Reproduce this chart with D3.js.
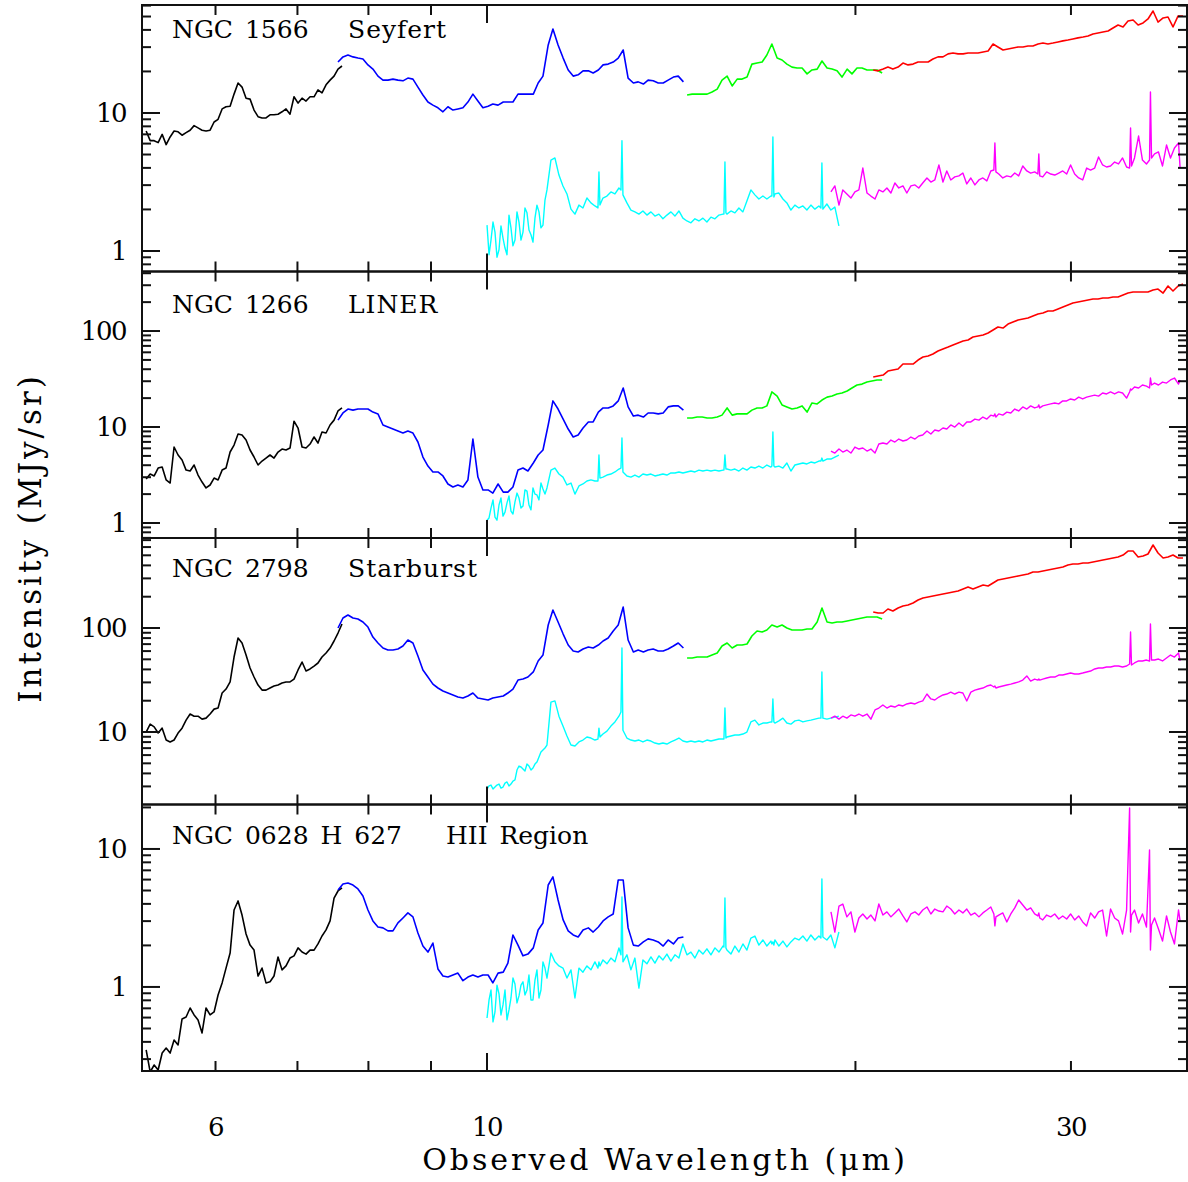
<!DOCTYPE html>
<html>
<head>
<meta charset="utf-8">
<script src="https://cdn.jsdelivr.net/npm/d3@7"></script>
<style>
  body { margin: 0; background: #fff; }
  svg { display: block; }
  text { font-family: "DejaVu Serif", serif; fill: #000; }
</style>
</head>
<body>
<svg id="chart" width="1188" height="1182"></svg>
<script>
// ---------------------------------------------------------------
// Wavelength grids (micron) of the six spectral modules
// ---------------------------------------------------------------
const sl2Wave = [5.266,5.306,5.346,5.386,5.427,5.468,5.509,5.550,5.592,5.634,
  5.677,5.720,5.763,5.806,5.850,5.894,5.939,5.984,6.029,6.075,
  6.120,6.167,6.213,6.260,6.307,6.355,6.403,6.451,6.500,6.549,
  6.598,6.648,6.698,6.749,6.800,6.851,6.903,6.955,7.008,7.061,
  7.114,7.168,7.222,7.276,7.331,7.387,7.443,7.499,7.555,7.612];

const sl1Wave = [7.555,7.626,7.698,7.771,7.844,7.918,7.993,8.068,8.145,8.222,
  8.299,8.378,8.457,8.537,8.617,8.699,8.781,8.864,8.948,9.032,
  9.118,9.204,9.291,9.379,9.467,9.557,9.647,9.738,9.830,9.923,
  10.02,10.11,10.21,10.31,10.40,10.50,10.60,10.70,10.80,10.91,
  11.01,11.11,11.22,11.32,11.43,11.54,11.65,11.76,11.87,11.98,
  12.10,12.21,12.33,12.44,12.56,12.68,12.80,12.92,13.04,13.17,
  13.29,13.42,13.54,13.67,13.80,13.93,14.06,14.20,14.33,14.47];

const ll2Wave = [14.57,14.71,14.85,14.99,15.13,15.27,15.42,15.56,15.71,15.86,
  16.01,16.16,16.31,16.46,16.62,16.78,16.93,17.09,17.26,17.42,
  17.58,17.75,17.92,18.09,18.26,18.43,18.61,18.78,18.96,19.14,
  19.32,19.50,19.69,19.87,20.06,20.25,20.44,20.63,20.83,21.03];

const ll1Wave = [20.68,20.87,21.07,21.26,21.46,21.67,21.87,22.08,22.29,22.50,
  22.71,22.93,23.14,23.36,23.58,23.81,24.03,24.26,24.49,24.72,
  24.95,25.19,25.43,25.67,25.91,26.15,26.40,26.65,26.90,27.16,
  27.41,27.67,27.93,28.20,28.46,28.73,29.00,29.28,29.55,29.83,
  30.11,30.40,30.69,30.98,31.27,31.57,31.86,32.17,32.47,32.78,
  33.09,33.40,33.72,34.04,34.36,34.68,35.01,35.34,35.68,36.01,
  36.35,36.70,37.04];

const shWave = [10.000,10.075,10.151,10.228,10.305,10.383,10.461,10.540,10.620,10.700,
  10.781,10.862,10.944,11.027,11.110,11.194,11.278,11.363,11.449,11.536,
  11.623,11.711,11.799,11.888,11.978,12.068,12.159,12.251,12.321,12.344,
  12.367,12.437,12.531,12.625,12.721,12.817,12.866,12.890,12.914,13.011,
  13.109,13.208,13.308,13.409,13.510,13.612,13.715,13.818,13.923,14.028,
  14.134,14.241,14.348,14.457,14.566,14.676,14.787,14.898,15.011,15.124,
  15.239,15.354,15.470,15.587,15.616,15.646,15.675,15.704,15.823,15.942,
  16.063,16.184,16.306,16.429,16.553,16.678,16.804,16.931,17.059,17.091,
  17.123,17.155,17.188,17.318,17.449,17.580,17.713,17.847,17.982,18.118,
  18.254,18.392,18.531,18.671,18.742,18.777,18.812,18.954,19.097,19.241,
  19.387];

// extra samples at the noisy short-wavelength edge of the SH module
const shEdgeWave = [10.038,10.113,10.189,10.266,10.344,10.422,10.500,10.580,
  10.660,10.740,10.821,10.903,10.985,11.068,11.152];

const lhWave = [19.10,19.24,19.39,19.53,19.68,19.83,19.98,20.13,20.28,20.44,
  20.59,20.75,20.90,21.06,21.22,21.38,21.54,21.70,21.87,22.03,
  22.20,22.37,22.53,22.70,22.88,23.05,23.22,23.40,23.58,23.75,
  23.93,24.11,24.30,24.48,24.66,24.85,25.04,25.23,25.42,25.61,
  25.80,25.95,26.00,26.05,26.19,26.39,26.59,26.79,26.99,27.19,
  27.40,27.61,27.81,28.02,28.19,28.24,28.29,28.45,28.66,28.88,
  29.10,29.32,29.54,29.76,29.98,30.21,30.44,30.67,30.90,31.13,
  31.37,31.60,31.84,32.08,32.32,32.57,32.81,33.06,33.31,33.50,
  33.56,33.62,33.81,34.07,34.32,34.58,34.78,34.84,34.91,35.11,
  35.37,35.64,35.91,36.18,36.45,36.73,36.84];

// ---------------------------------------------------------------
// Intensities (MJy/sr)
// ---------------------------------------------------------------
// NGC 1566 (Seyfert)
const ngc1566_sl2 = [7.4,6.3,6.3,6.1,7.0,5.9,6.7,7.4,7.3,6.9,
  7.2,7.5,8.1,7.8,7.5,7.4,7.5,8.6,9.0,10.7,
  11.1,11.2,13.7,16.5,15.4,12.8,12.6,10.5,9.4,9.2,
  9.2,9.7,9.7,9.8,10.2,10.7,9.8,13.1,11.8,12.8,
  12.2,13.1,13.1,14.7,14.0,16.0,17.3,18.5,20.8,21.9];
const ngc1566_sl1 = [23.4,25.5,26.3,25.5,25.0,24.6,22.3,20.8,18.5,17.3,
  17.3,17.6,17.3,17.1,17.9,17.6,15.4,13.5,12.0,11.4,
  10.9,10.2,11.1,10.5,10.7,10.9,12.0,13.7,12.2,10.9,
  11.2,11.6,11.4,12.0,12.0,12.0,13.7,13.7,13.7,13.7,
  16.5,18.5,31.1,40.6,31.1,25.0,20.5,18.5,18.9,20.2,
  20.2,19.5,20.5,22.3,22.6,23.4,25.0,28.6,17.9,16.5,
  16.8,16.2,17.3,17.1,16.5,16.5,17.3,18.2,18.5,16.8];
const ngc1566_ll2 = [13.5,13.7,13.7,13.7,13.7,14.2,14.9,17.3,18.5,15.7,
  17.6,17.6,18.2,22.6,23.0,23.4,26.3,31.6,25.0,24.2,
  22.6,21.5,21.2,21.2,19.2,20.5,20.8,23.8,21.2,20.8,
  20.2,18.2,20.8,19.2,21.2,21.2,20.5,20.5,20.5,19.5];
const ngc1566_ll1 = [20.5,20.2,20.8,21.5,20.8,21.5,23.0,22.3,22.6,23.4,
  23.4,23.4,24.6,25.5,25.5,26.8,27.2,26.8,26.8,27.2,
  27.2,27.2,27.7,28.1,31.6,30.1,28.6,29.1,29.6,30.1,
  30.1,30.6,30.6,31.6,32.1,31.6,32.1,32.7,33.3,33.8,
  34.4,35.0,35.5,36.1,37.4,38.0,38.6,39.3,41.3,43.4,
  42.0,46.4,47.2,43.4,44.9,48.0,54.8,45.6,48.8,49.6,
  42.0,50.5,50.5];
const ngc1566_sh = [1.54,1.20,1.37,1.02,1.24,0.94,1.47,1.20,1.62,1.37,
  1.89,1.31,1.73,1.92,1.54,2.77,4.56,4.72,3.55,2.96,
  2.59,2.01,1.85,2.15,2.05,2.42,2.23,2.12,2.05,3.74,
  2.15,2.42,2.50,2.68,2.59,2.86,2.77,6.3,2.55,2.23,
  1.98,1.92,1.85,1.95,1.82,1.92,1.79,1.85,1.71,1.82,
  1.92,1.79,1.95,1.73,1.65,1.60,1.71,1.65,1.73,1.62,
  1.76,1.71,1.82,1.85,1.85,4.41,1.89,1.85,1.95,1.89,
  2.05,1.92,2.30,2.77,2.55,2.38,2.50,2.38,2.50,2.50,
  6.7,2.46,2.59,2.63,2.38,2.23,1.98,2.15,2.05,2.12,
  1.98,2.15,2.01,2.12,2.05,4.34,2.01,2.19,1.98,2.08,
  1.52];
const ngc1566_shEdge = [0.94,1.62,0.90,1.52,1.05,1.82,1.09,1.92,1.20,2.05,1.42,1.16,2.15,1.47,2.34];
const ngc1566_lh = [2.68,2.96,2.15,2.77,2.59,2.42,2.68,2.77,3.99,2.63,
  2.50,2.38,2.77,2.68,2.86,2.63,3.11,2.86,2.96,2.63,
  2.96,3.01,2.86,3.11,3.38,3.16,3.27,4.20,3.16,3.80,
  3.27,3.44,3.50,3.67,3.06,3.38,3.01,3.27,3.38,3.22,
  3.80,3.86,6.06,3.74,3.61,3.38,3.50,3.44,3.67,3.50,
  4.13,3.80,3.67,3.74,3.61,5.05,3.50,3.44,3.74,3.61,
  3.55,3.67,3.80,3.61,4.20,3.61,3.38,3.27,3.99,3.86,
  3.99,4.80,4.20,4.06,4.13,4.41,4.27,4.72,4.06,3.99,
  7.78,4.13,4.72,6.81,4.56,4.27,4.56,14.2,4.72,5.05,
  5.22,4.13,5.86,4.72,5.58,6.06,3.99];

// NGC 1266 (LINER)
const ngc1266_sl2 = [2.87,3.24,3.09,3.74,3.83,2.81,2.61,6.19,5.11,4.53,
  3.56,3.48,4.02,3.16,2.67,2.32,2.49,2.94,2.81,3.56,
  3.74,5.49,6.49,8.46,8.25,7.32,5.76,4.87,4.02,4.42,
  4.75,5.11,4.75,5.49,5.90,5.76,6.04,11.5,9.76,6.19,
  6.04,6.65,7.87,6.81,8.87,8.66,10.5,11.8,14.7,15.8];
const ngc1266_sl1 = [11.8,14.0,15.4,15.0,15.4,15.4,15.4,14.3,13.7,10.5,
  10.0,9.53,9.09,8.66,9.09,8.66,6.98,4.87,3.92,3.40,
  3.40,3.09,2.55,2.37,2.49,2.37,2.81,7.50,3.01,2.21,
  2.21,2.05,2.55,2.10,2.10,2.37,3.56,3.74,3.48,4.22,
  5.11,5.76,10.5,18.7,15.4,12.1,9.53,7.87,8.25,9.76,
  11.3,11.3,14.3,15.8,15.8,16.6,18.7,25.5,16.2,13.0,
  13.3,12.7,14.0,14.0,13.7,14.0,16.2,16.6,16.6,15.0];
const ngc1266_ll2 = [12.4,12.4,12.7,12.7,12.4,12.4,12.7,13.3,15.8,13.3,
  13.7,13.7,13.7,15.0,15.8,15.8,16.6,23.2,21.0,17.0,
  16.2,15.4,15.8,16.6,14.3,17.8,17.4,19.1,20.5,21.0,
  22.1,22.6,23.7,25.5,27.4,28.0,29.4,30.1,30.9,30.9];
const ngc1266_ll1 = [33.2,34.0,34.8,38.3,39.3,40.2,45.3,45.3,45.3,49.9,
  53.6,54.9,57.6,61.9,64.9,68.1,71.5,75.0,78.7,80.6,
  86.6,88.7,90.9,95.3,102.4,110.1,107.5,118.3,124.1,130.2,
  133.4,136.6,143.3,150.4,154.0,161.6,161.6,169.5,177.8,186.6,
  195.7,200.5,205.4,210.3,215.4,215.4,220.7,220.7,226.1,226.1,
  237.1,248.8,254.8,254.8,254.8,254.8,267.3,273.8,248.8,294.3,
  261.0,294.3,308.8];
const ngc1266_sh = [1.07,1.43,1.15,1.54,1.18,1.62,1.33,1.66,1.82,1.50,
  2.15,1.37,2.00,1.74,2.26,2.32,3.56,3.74,3.24,3.01,
  2.49,2.61,2.00,2.43,2.55,2.74,2.81,2.74,2.74,5.11,
  2.94,3.01,3.16,3.24,3.40,3.65,3.74,7.68,3.40,3.09,
  3.01,3.16,3.01,3.24,3.16,3.24,3.09,3.16,3.24,3.16,
  3.32,3.32,3.40,3.32,3.40,3.48,3.40,3.56,3.48,3.56,
  3.48,3.56,3.48,3.56,3.56,5.11,3.65,3.65,3.56,3.65,
  3.48,3.74,3.56,3.83,3.74,3.92,3.74,4.02,3.83,3.92,
  8.87,3.92,3.83,3.92,3.74,4.22,3.48,4.02,4.12,4.22,
  4.12,4.32,4.22,4.42,4.42,4.75,4.42,4.64,4.64,4.87,
  5.11];
const ngc1266_shEdge = [1.13,1.74,1.07,1.82,1.30,1.91,1.24,2.05,1.43,2.21,1.54,2.32,1.96,2.61,2.00];
const ngc1266_lh = [5.62,5.36,5.90,5.49,5.76,5.36,6.19,5.90,6.04,5.62,
  5.90,5.36,6.65,6.81,6.65,7.32,6.98,7.50,7.15,7.32,
  7.87,7.50,8.06,8.25,9.09,8.46,9.31,9.09,9.76,9.53,
  10.5,10.0,11.0,10.2,11.3,11.3,12.1,11.8,12.7,12.1,
  13.3,13.0,13.7,12.7,13.7,13.3,14.3,14.0,15.4,14.7,
  16.2,15.4,16.6,15.8,16.2,17.0,15.8,16.6,17.0,17.4,
  17.8,17.4,18.7,18.7,19.6,19.1,20.5,19.6,20.5,21.0,
  21.5,21.0,22.6,22.1,23.2,22.1,23.2,22.6,20.0,23.2,
  24.9,24.3,26.1,25.5,27.4,26.7,25.5,32.4,27.4,28.7,
  27.4,29.4,28.7,30.9,32.4,28.0,30.9];

// NGC 2798 (Starburst)
const ngc2798_sl2 = [10.0,11.9,11.2,9.78,10.9,8.38,8.02,8.38,9.78,10.9,
  13.0,14.9,14.2,14.2,13.3,13.6,14.9,16.6,17.0,23.7,
  25.9,30.3,52.6,80.1,71.8,55.0,41.3,33.8,28.3,25.3,
  25.3,26.5,27.7,28.3,29.6,30.3,30.3,32.3,39.5,47.1,
  38.6,40.4,43.1,46.1,52.6,57.5,64.2,75.0,89.5,109.3];
const ngc2798_sl1 = [100,124.8,133.4,124.8,122.1,114.2,102.2,81.9,71.8,64.2,
  61.4,61.4,62.8,67.1,76.7,71.8,53.8,39.5,33.8,28.9,
  26.5,24.8,23.7,22.7,21.7,21.2,22.2,23.7,21.2,20.8,
  20.3,21.2,21.7,22.2,23.7,25.9,31.6,32.3,33.8,37.8,
  48.2,55.0,106.9,149.0,114.2,87.5,68.6,60.1,58.8,62.8,
  65.7,64.2,68.6,75.0,80.1,93.6,106.9,159.2,76.7,58.8,
  61.4,58.8,61.4,62.8,60.1,60.1,62.8,67.1,71.8,64.2];
const ngc2798_ll2 = [51.5,51.5,52.6,52.6,52.6,55.0,57.5,67.1,71.8,64.2,
  68.6,68.6,70.2,83.8,93.6,91.5,95.7,106.9,102.2,106.9,
  100,95.7,95.7,95.7,97.8,97.8,114.2,155.7,114.2,111.7,
  114.2,114.2,116.8,119.4,122.1,124.8,127.6,127.6,127.6,122.1];
const ngc2798_ll1 = [142.5,139.4,139.4,152.3,145.7,155.7,162.8,166.4,174.0,185.9,
  194.3,198.7,203.1,207.7,212.3,217.0,221.9,226.9,237.1,247.9,
  237.1,247.9,259.2,253.3,270.9,289.4,296.0,302.5,309.3,316.2,
  323.3,330.5,345.6,345.6,353.3,361.2,369.3,377.6,386.0,403.5,
  412.5,412.5,421.7,421.7,431.1,440.8,450.7,460.8,471.3,481.7,
  503.4,550.0,550.0,481.7,492.4,514.6,628.4,526.2,471.3,481.7,
  503.4,471.3,471.3];
const ngc2798_sh = [2.83,3.09,2.96,3.16,2.96,3.31,3.16,3.46,4.71,4.41,
  4.92,4.31,4.92,5.75,6.71,7.50,19.4,19.9,14.2,11.4,
  9.15,7.50,7.34,8.02,8.38,8.95,8.76,8.38,8.56,10.9,
  8.95,9.57,10.2,11.4,12.5,14.2,15.6,64.2,10.4,8.76,
  8.38,8.19,8.38,8.02,8.38,8.19,7.84,7.67,7.84,7.67,
  8.02,8.38,8.76,8.19,8.02,8.19,8.02,8.19,8.02,8.38,
  8.19,8.38,8.56,8.56,8.56,17.0,8.76,8.95,9.15,9.36,
  9.36,9.57,10.0,12.5,13.0,11.7,12.2,12.2,12.5,12.5,
  20.8,12.5,12.2,12.8,13.6,12.2,11.9,12.8,13.0,12.5,
  12.8,13.0,13.3,13.6,13.6,37.8,13.6,13.3,13.6,13.9,
  14.2];
const ngc2798_shEdge = [3.03,2.83,3.09,2.89,3.23,3.03,3.38,4.31,4.61,4.22,4.71,4.51,5.14,6.42,7.02];
const ngc2798_lh = [13.6,14.2,13.3,14.2,13.6,14.6,14.2,14.9,14.2,14.9,
  13.3,16.3,17.0,18.2,17.0,17.8,17.4,18.2,17.8,18.6,
  19.0,18.6,19.4,19.9,23.2,20.8,20.3,21.7,22.7,23.2,
  24.2,23.2,24.2,23.7,19.9,24.2,25.3,25.9,26.5,27.7,
  28.3,27.1,27.7,26.5,27.1,27.7,28.3,28.9,29.6,30.3,
  31.6,34.6,30.9,32.3,31.6,32.3,31.6,32.3,33.1,33.8,
  33.8,35.3,35.3,36.1,36.9,36.1,36.1,36.9,37.8,38.6,
  40.4,41.3,41.3,42.2,42.2,43.1,43.1,42.2,43.1,45.1,
  91.5,44.1,46.1,48.2,48.2,49.2,48.2,109.3,49.2,49.2,
  50.3,48.2,51.5,55.0,52.6,57.5,48.2];

// NGC 0628 H 627 (HII region)
const ngc0628_sl2 = [0.350,0.242,0.272,0.250,0.332,0.361,0.332,0.413,0.380,0.586,
  0.606,0.704,0.627,0.577,0.464,0.704,0.627,0.659,0.875,1.07,
  1.37,1.76,3.61,4.20,3.32,2.42,2.01,1.85,1.20,1.37,
  1.07,1.09,1.20,1.65,1.33,1.42,1.62,1.68,1.92,1.79,
  1.73,1.85,1.85,2.05,2.34,2.59,3.01,4.41,4.96,5.22];
const ngc0628_sl1 = [5.05,5.58,5.67,5.48,5.13,4.56,3.61,3.01,2.72,2.68,
  2.55,2.55,2.91,3.16,3.44,3.22,2.46,1.98,1.79,2.08,
  1.35,1.20,1.18,1.22,1.26,1.11,1.18,1.22,1.18,1.22,
  1.22,1.07,1.26,1.28,1.49,2.38,2.01,1.68,1.73,1.92,
  2.59,2.91,5.48,6.27,4.27,3.06,2.55,2.38,2.30,2.59,
  2.68,2.50,2.72,3.01,3.22,3.38,5.96,5.96,2.68,2.01,
  1.98,2.12,2.23,2.19,2.12,1.98,2.19,2.05,2.26,2.30];
const ngc0628_sh = [0.596,0.95,0.659,0.890,0.741,0.577,0.832,1.05,0.861,1.09,
  0.95,0.805,1.12,0.832,1.52,1.16,1.76,1.52,1.42,1.37,
  1.16,1.33,0.832,1.37,1.28,1.42,1.33,1.52,1.37,1.52,
  1.42,1.57,1.47,1.62,1.52,1.92,1.71,4.49,1.52,1.71,
  1.33,1.62,0.98,1.57,1.47,1.65,1.49,1.68,1.57,1.73,
  1.54,1.71,1.62,2.05,1.71,1.79,1.62,1.85,1.73,1.89,
  1.71,1.92,1.79,1.98,1.95,4.42,1.92,1.85,1.73,1.98,
  1.79,2.05,1.85,2.26,2.34,2.01,2.19,1.98,2.15,2.05,
  2.12,2.01,2.19,1.98,2.15,1.95,2.12,2.26,2.19,2.34,
  2.15,2.38,2.19,2.34,2.26,6.06,2.30,2.19,2.38,1.92,
  2.50];
const ngc0628_shEdge = [0.805,0.558,1.03,0.627,0.95,0.681,1.16,0.766,1.03,0.875,1.22,0.805,1.33,0.95,1.37];
const ngc0628_lh = [3.50,2.50,3.86,3.99,3.22,3.50,2.50,3.16,3.38,3.11,
  3.32,3.01,3.99,3.32,3.50,3.22,3.44,3.67,3.27,2.96,
  3.38,3.50,3.32,3.61,3.80,3.38,3.67,3.55,3.50,3.86,
  3.67,3.38,3.61,3.44,3.67,3.32,3.44,3.22,3.44,3.61,
  3.80,3.38,2.77,3.22,3.32,3.44,2.96,3.38,3.74,4.27,
  3.93,3.61,3.74,3.38,3.27,3.44,3.16,3.06,3.32,3.22,
  3.38,3.11,3.27,3.11,3.38,3.06,3.27,2.96,2.77,3.44,
  3.16,3.50,3.61,2.34,3.67,3.16,3.01,2.42,3.61,19.8,
  2.50,3.32,3.61,2.91,3.38,2.72,9.83,1.85,2.81,3.16,
  2.63,2.15,3.27,2.50,2.05,3.61,3.01];

// Axis ticks and labels
const xTicksMajor = [10];
const xTicksMinor = [6, 7, 8, 9, 20, 30];
const xTickLabels = [6, 10, 30];
const galaxyNames = ["NGC 1566", "NGC 1266", "NGC 2798", "NGC 0628 H 627"];
const galaxyTypes = ["Seyfert", "LINER", "Starburst", "HII Region"];
const yDomains = [[0.710, 60.6], [0.698, 417], [2.01, 733.5], [0.246, 21.0]];
const yTickLabels = [[1, 10], [1, 10, 100], [10, 100], [1, 10]];

// ---------------------------------------------------------------
// Assemble panels: [module, wavelengths, intensities]
// ---------------------------------------------------------------
const panelSeries = [
  [["sl2", sl2Wave, ngc1566_sl2], ["sl1", sl1Wave, ngc1566_sl1], ["ll2", ll2Wave, ngc1566_ll2],
   ["ll1", ll1Wave, ngc1566_ll1], ["sh", [shWave, shEdgeWave], [ngc1566_sh, ngc1566_shEdge]], ["lh", lhWave, ngc1566_lh]],
  [["sl2", sl2Wave, ngc1266_sl2], ["sl1", sl1Wave, ngc1266_sl1], ["ll2", ll2Wave, ngc1266_ll2],
   ["ll1", ll1Wave, ngc1266_ll1], ["sh", [shWave, shEdgeWave], [ngc1266_sh, ngc1266_shEdge]], ["lh", lhWave, ngc1266_lh]],
  [["sl2", sl2Wave, ngc2798_sl2], ["sl1", sl1Wave, ngc2798_sl1], ["ll2", ll2Wave, ngc2798_ll2],
   ["ll1", ll1Wave, ngc2798_ll1], ["sh", [shWave, shEdgeWave], [ngc2798_sh, ngc2798_shEdge]], ["lh", lhWave, ngc2798_lh]],
  [["sl2", sl2Wave, ngc0628_sl2], ["sl1", sl1Wave, ngc0628_sl1],
   ["sh", [shWave, shEdgeWave], [ngc0628_sh, ngc0628_shEdge]], ["lh", lhWave, ngc0628_lh]]
];

const moduleColor = { sl2: "#000000", sl1: "#0000ff", ll2: "#00ff00", ll1: "#ff0000", sh: "#00ffff", lh: "#ff00ff" };

const layout = {
  left: 142, right: 1187, top: 5, panelH: 266.5,
  nameX: 172, typeX: [348, 348, 348, 446], labelBaseline: [38, 313, 577, 844]
};

const svg = d3.select("#chart");
const x = d3.scaleLog().domain([5.225, 37.32]).range([layout.left, layout.right]);
const line = (y) => d3.line().x(d => x(d[0])).y(d => y(d[1]));

// pair wavelengths with intensities; several grids are merged in wavelength order
function toPoints(wave, flux) {
  if (Array.isArray(wave[0])) {
    const pts = [];
    wave.forEach((w, k) => pts.push(...d3.zip(w, flux[k])));
    return pts.sort((a, b) => a[0] - b[0]);
  }
  return d3.zip(wave, flux);
}

const defs = svg.append("defs");

panelSeries.forEach((seriesList, i) => {
  const top = layout.top + i * layout.panelH;
  const bottom = top + layout.panelH;
  const y = d3.scaleLog().domain(yDomains[i]).range([bottom, top]);
  const g = svg.append("g");

  defs.append("clipPath").attr("id", "clip" + i)
    .append("rect").attr("x", layout.left).attr("y", top)
    .attr("width", layout.right - layout.left).attr("height", layout.panelH);

  const lines = g.append("g").attr("clip-path", `url(#clip${i})`);
  seriesList.forEach(([mod, wave, flux]) => {
    lines.append("path")
      .datum(toPoints(wave, flux))
      .attr("d", line(y))
      .attr("fill", "none")
      .attr("stroke", moduleColor[mod])
      .attr("stroke-width", mod === "sh" || mod === "lh" ? 1.4 : 1.6)
      .attr("stroke-linejoin", "round");
  });

  // frame
  g.append("rect")
    .attr("x", layout.left).attr("y", top)
    .attr("width", layout.right - layout.left).attr("height", layout.panelH)
    .attr("fill", "none").attr("stroke", "#111").attr("stroke-width", 2);

  // y ticks on both sides
  const [y0, y1] = yDomains[i];
  const ticks = [];
  for (let k = Math.floor(Math.log10(y0)); k <= Math.ceil(Math.log10(y1)); k++) {
    for (let m = 1; m <= 9; m++) {
      const v = m * Math.pow(10, k);
      if (v >= y0 && v <= y1) ticks.push({ v, major: m === 1 });
    }
  }
  const tg = g.append("g").attr("stroke", "#111").attr("stroke-width", 2);
  ticks.forEach(t => {
    const len = t.major ? 18 : 9;
    tg.append("line").attr("x1", layout.left).attr("x2", layout.left + len)
      .attr("y1", y(t.v)).attr("y2", y(t.v));
    tg.append("line").attr("x1", layout.right).attr("x2", layout.right - len)
      .attr("y1", y(t.v)).attr("y2", y(t.v));
  });

  // x ticks on top and bottom of each panel
  const xt = xTicksMajor.map(v => ({ v, major: true }))
    .concat(xTicksMinor.map(v => ({ v, major: false })));
  xt.forEach(t => {
    const len = t.major ? 18 : 10;
    tg.append("line").attr("x1", x(t.v)).attr("x2", x(t.v))
      .attr("y1", top).attr("y2", top + len);
    tg.append("line").attr("x1", x(t.v)).attr("x2", x(t.v))
      .attr("y1", bottom).attr("y2", bottom - len);
  });

  // y tick labels
  yTickLabels[i].forEach(v => {
    g.append("text")
      .attr("x", 126).attr("y", y(v) + 9)
      .attr("text-anchor", "end")
      .style("font-size", "26px").style("letter-spacing", "-1.5px")
      .text(v);
  });

  // panel labels
  g.append("text").attr("x", layout.nameX).attr("y", layout.labelBaseline[i])
    .style("font-size", "25px").style("letter-spacing", "0px").style("word-spacing", "4px")
    .text(galaxyNames[i]);
  g.append("text").attr("x", layout.typeX[i]).attr("y", layout.labelBaseline[i])
    .style("font-size", "25px").style("letter-spacing", i === 3 ? "0px" : "1px")
    .style("word-spacing", "4px")
    .text(galaxyTypes[i]);
});

// x tick labels along the bottom
xTickLabels.forEach(v => {
  svg.append("text")
    .attr("x", x(v)).attr("y", 1136)
    .attr("text-anchor", "middle")
    .style("font-size", "26px").style("letter-spacing", "-1.5px")
    .text(v);
});

// axis titles
svg.append("text")
  .attr("x", 665).attr("y", 1170)
  .attr("text-anchor", "middle")
  .style("font-size", "30px").style("letter-spacing", "3px")
  .text("Observed Wavelength (\u03BCm)");

svg.append("text")
  .attr("transform", "translate(41,538) rotate(-90)")
  .attr("text-anchor", "middle")
  .style("font-size", "31px").style("letter-spacing", "3px")
  .text("Intensity (MJy/sr)");
</script>
</body>
</html>
